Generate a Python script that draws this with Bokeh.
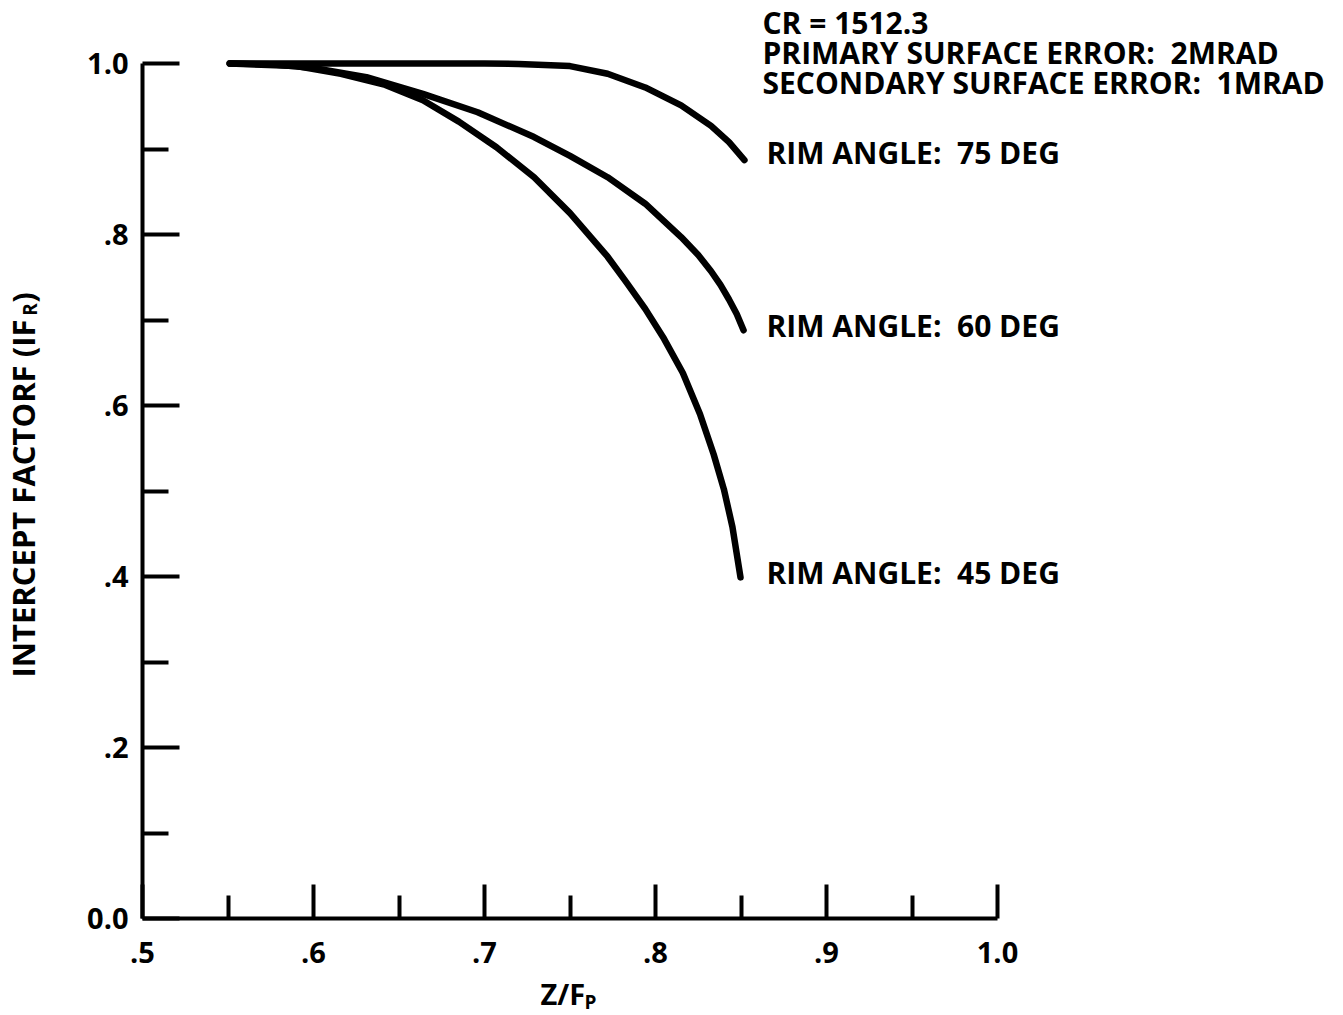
import math
from bokeh.plotting import figure
from bokeh.layouts import row, column
from bokeh.models import Label, FixedTicker, Range1d
from bokeh.core.properties import value
from bokeh.embed import file_html
from bokeh.resources import INLINE

# ---------------- data ----------------
x_75 = [0.551, 0.600, 0.650, 0.700, 0.720, 0.750, 0.772, 0.794, 0.815, 0.8325, 0.843, 0.852]
y_75 = [1.000, 1.000, 1.000, 1.000, 0.9995, 0.997, 0.988, 0.972, 0.951, 0.927, 0.908, 0.887]

x_60 = [0.551, 0.575, 0.599, 0.631, 0.664, 0.696, 0.729, 0.750, 0.772, 0.794, 0.815, 0.825,
        0.8325, 0.838, 0.843, 0.8475, 0.8515]
y_60 = [1.000, 0.999, 0.995, 0.984, 0.9645, 0.943, 0.914, 0.892, 0.867, 0.836, 0.797, 0.776,
        0.757, 0.741, 0.724, 0.707, 0.688]

x_45 = [0.551, 0.590, 0.616, 0.642, 0.664, 0.685, 0.707, 0.729, 0.750, 0.772, 0.783, 0.794,
        0.805, 0.816, 0.826, 0.834, 0.840, 0.845, 0.8497]
y_45 = [1.000, 0.997, 0.988, 0.975, 0.957, 0.932, 0.902, 0.867, 0.825, 0.774, 0.744, 0.713,
        0.678, 0.638, 0.590, 0.543, 0.502, 0.458, 0.399]

series_labels = ["RIM ANGLE:\u00a0 75 DEG", "RIM ANGLE:\u00a0 60 DEG", "RIM ANGLE:\u00a0 45 DEG"]

x_ticks = [0.5, 0.6, 0.7, 0.8, 0.9, 1.0]
x_tick_labels = [".5", ".6", ".7", ".8", ".9", "1.0"]
x_minor = [0.55, 0.65, 0.75, 0.85, 0.95]

y_ticks = [0.0, 0.2, 0.4, 0.6, 0.8, 1.0]
y_tick_labels = ["0.0", ".2", ".4", ".6", ".8", "1.0"]
y_minor = [0.1, 0.3, 0.5, 0.7, 0.9]

header_lines = ["CR = 1512.3",
                "PRIMARY SURFACE ERROR:\u00a0 2MRAD",
                "SECONDARY SURFACE ERROR:\u00a0 1MRAD"]

y_title = ["INTERCEPT FACTORF (IF", "R", ")"]
x_title = ["Z/F", "P"]

# ---------------- layout ----------------
W, H = 1343, 1015
LW = 70                 # left strip holding the y title
PH = 973                # height of the main figure; the strip below holds the x title
FL, FR, FT, FB = 142, 997, 63, 918   # where x=.5..1 / y=0..1 fall on the page
SX = (FR - FL) / 0.5    # px per x unit
SY = (FB - FT) / 1.0    # px per y unit
FONT = "Open Sans"
INK = "#000000"
BASE_SHIFT = 0.37       # measured offset of Bokeh's alphabetic baseline, in em

p = figure(width=W - LW, height=PH, output_backend="svg", toolbar_location=None,
           x_range=Range1d(0.5, 0.5 + (W - FL) / SX),
           y_range=Range1d(0.0, FB / SY),
           min_border_left=FL - LW, min_border_right=0,
           min_border_top=0, min_border_bottom=PH - FB)
p.outline_line_color = None
p.grid.visible = False
p.background_fill_color = "white"
p.border_fill_color = "white"

def ax(px):
    return 0.5 + (px - FL) / SX

def ay(py):
    return (FB - py) / SY

for axis, ticks, labels, minor, tin, tmin, stand, bnd in (
        (p.xaxis[0], x_ticks, x_tick_labels, x_minor, 34, 23, 23, (0.5, 1.0)),
        (p.yaxis[0], y_ticks, y_tick_labels, y_minor, 37, 26, 14, (0.0, 1.0))):
    axis.bounds = bnd
    axis.ticker = FixedTicker(ticks=ticks, minor_ticks=minor)
    axis.major_label_overrides = {t: l for t, l in zip(ticks, labels)}
    axis.axis_line_width = 4
    axis.axis_line_color = INK
    axis.major_tick_in = tin
    axis.major_tick_out = 0
    axis.major_tick_line_width = 4
    axis.major_tick_line_color = INK
    axis.minor_tick_in = tmin
    axis.minor_tick_out = 0
    axis.minor_tick_line_width = 4
    axis.minor_tick_line_color = INK
    axis.major_label_standoff = stand
    axis.major_label_text_font = FONT
    axis.major_label_text_font_style = "bold"
    axis.major_label_text_font_size = "29px"
    axis.major_label_text_color = INK

# curves
for xs, ys in ((x_75, y_75), (x_60, y_60), (x_45, y_45)):
    p.line(xs, ys, line_width=6.5, line_color=INK, line_join="round", line_cap="round")

def lab(x_px, base_px, text, size=30):
    p.add_layout(Label(x=ax(x_px), y=ay(base_px - BASE_SHIFT * size), text=text,
                       text_font=FONT, text_font_style="bold",
                       text_font_size=f"{size}px", text_color=INK,
                       text_baseline="alphabetic", text_align="left"))

for txt, base in zip(header_lines, (33, 63, 93)):
    lab(762, base, txt)

for txt, base in zip(series_labels, (163, 336, 583)):
    lab(766, base, txt)

def strip(w, h, yr):
    f = figure(width=w, height=h, output_backend="svg", toolbar_location=None,
               x_range=Range1d(0, w), y_range=yr,
               x_axis_location=None, y_axis_location=None,
               min_border=0, min_border_left=0, min_border_right=0,
               min_border_top=0, min_border_bottom=0)
    f.outline_line_color = None
    f.grid.visible = False
    f.background_fill_color = "white"
    f.border_fill_color = "white"
    return f

# ---- left strip: rotated y title (its frame is aligned with the main frame) ----
lf = strip(LW, PH, Range1d(FB, 0))
lf.text(x=[22, 29, 22], y=[498, 309, 297], text=y_title, angle=math.pi / 2,
        text_font=value(FONT), text_font_style="bold",
        text_font_size=["31px", "19px", "31px"], text_color=INK,
        text_align="center", text_baseline="middle")

# ---- bottom strip: x title Z/F_P ----
BH = H - PH
bf = strip(W, BH, Range1d(BH, 0))
bf.text(x=[540, 584],
        y=[1004 - PH - BASE_SHIFT * 29, 1009 - PH - BASE_SHIFT * 19],
        text=x_title, text_font=value(FONT), text_font_style="bold",
        text_font_size=["29px", "19px"], text_color=INK,
        text_align="left", text_baseline="alphabetic")

layout = column(row(lf, p), bf)
open("out.html", "w").write(file_html(layout, INLINE))
